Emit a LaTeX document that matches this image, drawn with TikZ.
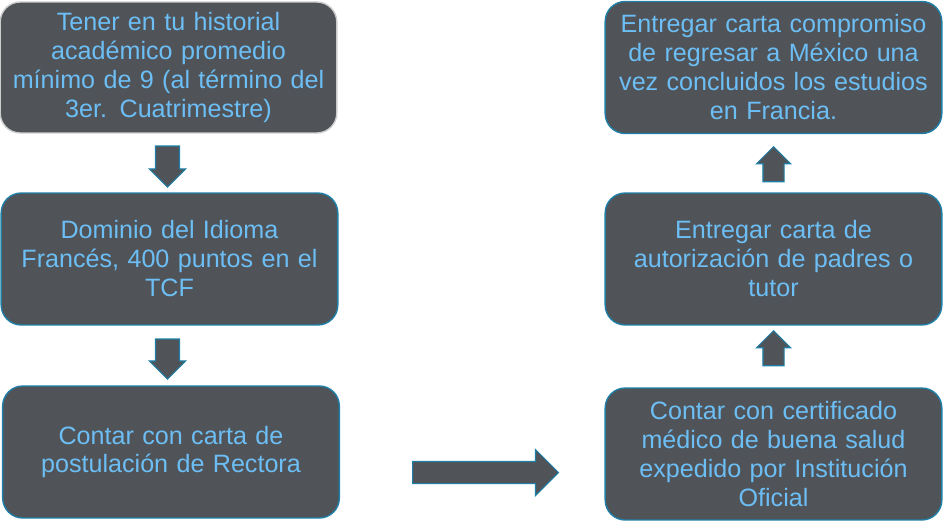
\documentclass[tikz,border=0pt]{standalone}
\usepackage{fontspec}
\setmainfont{Liberation Sans}
\usetikzlibrary{positioning, shapes.arrows}
\definecolor{boxfill}{HTML}{505458}
\definecolor{boxline}{HTML}{1F7FA6}
\definecolor{boxtext}{HTML}{6CBEF5}
\tikzset{
  stepbox/.style={draw=boxline, fill=boxfill, text=boxtext, rounded corners=0.4cm,
    line width=0.8pt, minimum width=6.7cm, minimum height=2.64cm, text width=6.5cm,
    align=center, font=\fontsize{14.3}{16.5}\selectfont},
  flow/.style={single arrow, draw=boxline, fill=boxfill, line width=0.6pt,
    inner xsep=0pt}
}
\begin{document}
\begin{tikzpicture}[x=0.02cm, y=-0.02cm]
\useasboundingbox (0,0) rectangle (944,521);
\node[stepbox, draw=gray!40, minimum width=6.66cm, minimum height=2.62cm] (hist) at (168.5,67.5)
  {Tener en tu historial\\acad\'emico promedio\\m\'inimo de 9 (al t\'ermino del\\3er. Cuatrimestre)};
\node[stepbox] (idioma) at (169.5,259) {Dominio del Idioma\\Franc\'es, 400 puntos en el\\TCF};
\node[stepbox] (rectora) at (171,452) {Contar con carta de\\postulaci\'on de Rectora};
\node[stepbox] (medico) at (773.5,454) {Contar con certificado\\m\'edico de buena salud\\expedido por Instituci\'on\\Oficial};
\node[stepbox] (padres) at (773.5,259) {Entregar carta de\\autorizaci\'on de padres o\\tutor};
\node[stepbox] (regreso) at (773.5,67.5) {Entregar carta compromiso\\de regresar a M\'exico una\\vez concluidos los estudios\\en Francia.};
% connectors
\node[flow, rotate=-90, inner ysep=0.23cm, single arrow head extend=0.12cm, minimum height=0.82cm] (a1) at (167.5,160.5) {};
\node[flow, rotate=-90, inner ysep=0.23cm, single arrow head extend=0.12cm, minimum height=0.8cm] (a2) at (167.5,353) {};
\node[flow, rotate=90, inner ysep=0.2cm, single arrow head extend=0.13cm, minimum height=0.7cm] (a3) at (773.5,353.5) {};
\node[flow, rotate=90, inner ysep=0.2cm, single arrow head extend=0.13cm, minimum height=0.7cm] (a4) at (773.5,169.5) {};
\node[flow, inner ysep=0.21cm, single arrow head extend=0.24cm, minimum height=2.92cm] (a5) at (480,472.5) {};
\end{tikzpicture}
\end{document}
